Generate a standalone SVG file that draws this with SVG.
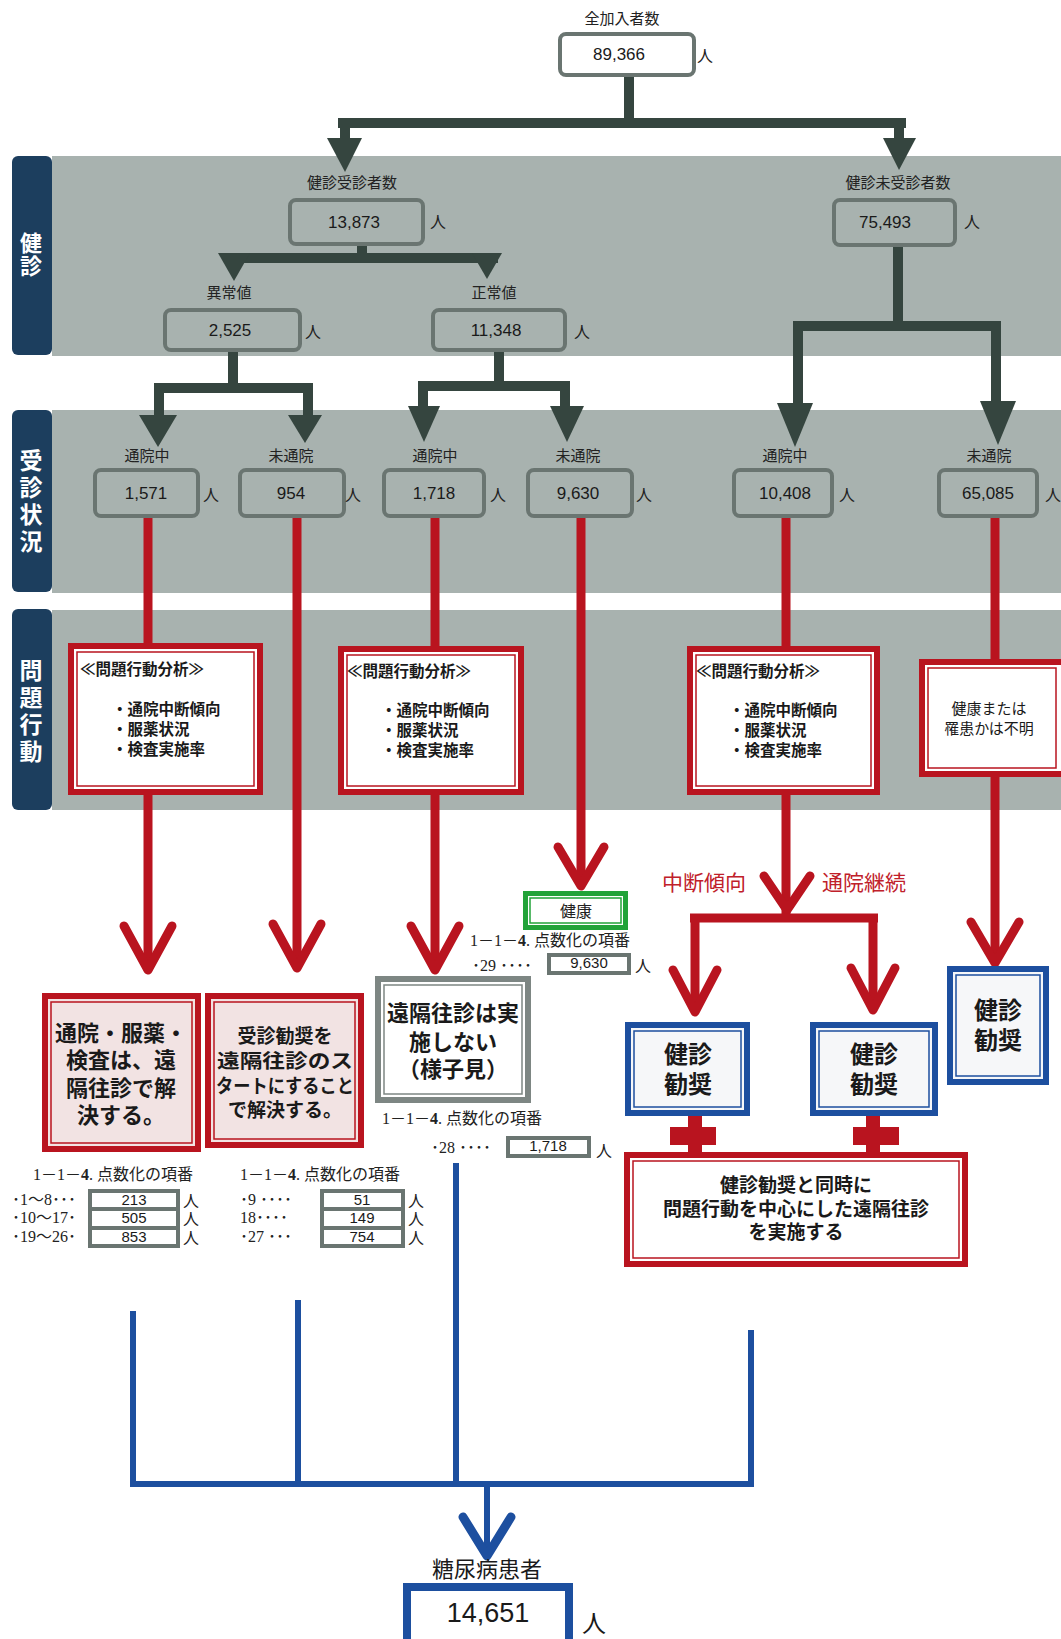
<svg xmlns="http://www.w3.org/2000/svg" width="1061" height="1639" viewBox="0 0 1061 1639">
<style>
.band{fill:#a8b2af}
.tab{fill:#1c3e5e}
.tabt{font-family:"Noto Sans CJK JP",sans-serif;font-weight:bold;fill:#fff;text-anchor:middle;writing-mode:vertical-rl}
.gbox{fill:none;stroke:#6a7571;stroke-width:4}
.num{font-family:"Liberation Sans",Arial,sans-serif;fill:#1a1a1a;text-anchor:middle}
.lbl{font-family:"Liberation Serif","Noto Sans CJK JP",serif;fill:#222;text-anchor:middle;font-size:15px}
.nin{font-family:"Liberation Serif","Noto Sans CJK JP",serif;fill:#222;font-size:16px}
.sr{font-family:"Liberation Serif","Noto Sans CJK JP",serif;fill:#222;font-size:16px}
.jp{font-family:"Noto Sans CJK JP",sans-serif;fill:#1a1a1a}
.jpm{font-family:"Noto Sans CJK JP",sans-serif;fill:#1a1a1a;font-weight:600}
.jpb{font-family:"Noto Sans CJK JP",sans-serif;fill:#1a1a1a;font-weight:bold;text-anchor:middle}
.dk{fill:none;stroke:#35453f;stroke-width:10}
.dkf{fill:#35453f}
.rl{fill:none;stroke:#b9141f;stroke-width:9}
.rv{fill:none;stroke:#b9141f;stroke-width:9;stroke-linecap:round;stroke-linejoin:round}
.rf{fill:#b9141f}
.bl{fill:none;stroke:#1d4f9f;stroke-width:6}
.bv{fill:none;stroke:#1d4f9f;stroke-width:9;stroke-linecap:round;stroke-linejoin:round}
.ro{fill:#fff;stroke:#b9141f;stroke-width:6}
.rop{fill:#f2e3e3;stroke:#b9141f;stroke-width:6}
.ri{fill:none;stroke:#b9141f;stroke-width:1.5}
.bo{fill:#f6f7f9;stroke:#1d4f9f;stroke-width:6}
.bi{fill:none;stroke:#1d4f9f;stroke-width:1.5}
.go{fill:#fff;stroke:#7d8683;stroke-width:6}
.gi{fill:none;stroke:#7d8683;stroke-width:1.5}
.gro{fill:#fff;stroke:#22a339;stroke-width:5}
.gri{fill:none;stroke:#22a339;stroke-width:1.5}
.sbox{fill:#fff;stroke:#6a7571;stroke-width:4}
.red{font-family:"Noto Sans CJK JP",sans-serif;fill:#c0202a;font-size:21px}
</style>

<!-- background bands -->
<g id="bands">
<rect class="band" x="52" y="156" width="1009" height="200"/>
<rect class="band" x="52" y="410" width="1009" height="183"/>
<rect class="band" x="52" y="610" width="1009" height="200"/>
<rect class="tab" x="12" y="156" width="40" height="199" rx="6"/>
<rect class="tab" x="12" y="410" width="40" height="182" rx="6"/>
<rect class="tab" x="12" y="609" width="40" height="201" rx="6"/>
<text class="tabt" font-size="22" letter-spacing="1" x="31" y="255">健診</text>
<text class="tabt" font-size="23" letter-spacing="4" x="31" y="503">受診状況</text>
<text class="tabt" font-size="23" letter-spacing="4" x="31" y="713">問題行動</text>
</g>

<g id="connectors">
<!-- dark tree -->
<path class="dk" d="M629 76V123M338 123H906M345 118V142M899 118V142"/>
<polygon class="dkf" points="327,138 362,138 345,172"/>
<polygon class="dkf" points="883,138 916,138 899,170"/>
<path class="dk" d="M362 245V258M224 258H498"/>
<polygon class="dkf" points="218,253 250,253 234,281"/>
<polygon class="dkf" points="472,253 502,253 487,279"/>
<path class="dk" d="M898 247V326M793 326H1001M798 321V408M996 321V406"/>
<polygon class="dkf" points="777,403 813,403 795,447"/>
<polygon class="dkf" points="980,401 1016,401 998,445"/>
<path class="dk" d="M233 352V388M154 388H313M159 383V420M308 383V420"/>
<polygon class="dkf" points="139,415 177,415 158,447"/>
<polygon class="dkf" points="288,415 322,415 305,443"/>
<path class="dk" d="M499 352V386M418 386H570M423 381V410M565 381V410"/>
<polygon class="dkf" points="408,406 440,406 424,442"/>
<polygon class="dkf" points="550,406 584,406 567,442"/>
<!-- red lines -->
<path class="rl" d="M148 518V970M297 518V968M435 518V970M581 518V886M786 518V914M995 518V963"/>
<polyline class="rv" points="124,926 148,970 172,926"/>
<polyline class="rv" points="273,924 297,968 321,924"/>
<polyline class="rv" points="411,926 435,970 459,926"/>
<polyline class="rv" points="558,847 581,886 604,847"/>
<polyline class="rv" points="764,876 787,910 810,876"/>
<polyline class="rv" points="971,922 995,963 1019,922"/>
<path class="rl" d="M690 918H878M695 914V1012M873 914V1010"/>
<polyline class="rv" points="673,970 695,1012 717,970"/>
<polyline class="rv" points="851,968 873,1010 895,968"/>
<!-- red plus joins -->
<rect class="rf" x="688" y="1114" width="14" height="40"/>
<rect class="rf" x="670" y="1127" width="46" height="18"/>
<rect class="rf" x="866" y="1114" width="14" height="40"/>
<rect class="rf" x="853" y="1127" width="46" height="18"/>
<!-- blue lines -->
<path class="bl" d="M133 1311V1487M298 1300V1487M456 1163V1487M751 1330V1487M130 1484H754"/>
<path class="bl" stroke-width="10" d="M487 1484V1552"/>
<polyline class="bv" points="463,1517 487,1556 511,1517"/>
</g>

<!-- top nodes -->
<g id="n-all">
<text class="lbl" x="622" y="24">全加入者数</text>
<rect class="gbox" x="560" y="34" width="134" height="41" rx="6" fill="#fff"/>
<text class="num" x="619" y="60" font-size="17">89,366</text>
<text class="nin" x="697" y="62">人</text>
</g>
<g id="n-jushin">
<text class="lbl" x="352" y="188">健診受診者数</text>
<rect class="gbox" x="290" y="200" width="133" height="44" rx="6"/>
<text class="num" x="354" y="228" font-size="17">13,873</text>
<text class="nin" x="430" y="228">人</text>
</g>
<g id="n-mijushin">
<text class="lbl" x="898" y="188">健診未受診者数</text>
<rect class="gbox" x="834" y="200" width="121" height="45" rx="6"/>
<text class="num" x="885" y="228" font-size="17">75,493</text>
<text class="nin" x="964" y="228">人</text>
</g>
<g id="n-ijou">
<text class="lbl" x="229" y="298">異常値</text>
<rect class="gbox" x="165" y="310" width="135" height="40" rx="6"/>
<text class="num" x="230" y="336" font-size="17">2,525</text>
<text class="nin" x="305" y="338">人</text>
</g>
<g id="n-seijou">
<text class="lbl" x="494" y="298">正常値</text>
<rect class="gbox" x="433" y="310" width="132" height="40" rx="6"/>
<text class="num" x="496" y="336" font-size="17">11,348</text>
<text class="nin" x="574" y="338">人</text>
</g>

<!-- row 2 -->
<g id="n-a-tsuin">
<text class="lbl" x="147" y="461">通院中</text>
<rect class="gbox" x="95" y="470" width="103" height="46" rx="6"/>
<text class="num" x="146" y="499" font-size="17">1,571</text>
<text class="nin" x="203" y="501">人</text>
</g>
<g id="n-a-mitsuin">
<text class="lbl" x="291" y="461">未通院</text>
<rect class="gbox" x="240" y="470" width="104" height="46" rx="6"/>
<text class="num" x="291" y="499" font-size="17">954</text>
<text class="nin" x="345" y="501">人</text>
</g>
<g id="n-b-tsuin">
<text class="lbl" x="435" y="461">通院中</text>
<rect class="gbox" x="384" y="470" width="100" height="46" rx="6"/>
<text class="num" x="434" y="499" font-size="17">1,718</text>
<text class="nin" x="490" y="501">人</text>
</g>
<g id="n-b-mitsuin">
<text class="lbl" x="578" y="461">未通院</text>
<rect class="gbox" x="528" y="470" width="104" height="46" rx="6"/>
<text class="num" x="578" y="499" font-size="17">9,630</text>
<text class="nin" x="636" y="501">人</text>
</g>
<g id="n-c-tsuin">
<text class="lbl" x="785" y="461">通院中</text>
<rect class="gbox" x="734" y="470" width="98" height="46" rx="6"/>
<text class="num" x="785" y="499" font-size="17">10,408</text>
<text class="nin" x="839" y="501">人</text>
</g>
<g id="n-c-mitsuin">
<text class="lbl" x="989" y="461">未通院</text>
<rect class="gbox" x="939" y="470" width="98" height="46" rx="6"/>
<text class="num" x="988" y="499" font-size="17">65,085</text>
<text class="nin" x="1045" y="501">人</text>
</g>

<!-- problem boxes -->
<g id="p1">
<rect class="ro" x="71" y="646" width="189" height="146"/>
<rect class="ri" x="77" y="652" width="177" height="134"/>
<text class="jpm" font-size="15.5" x="80" y="675">≪問題行動分析≫</text>
<text class="jpm" font-size="15.5"><tspan x="112" y="715">・通院中断傾向</tspan><tspan x="112" y="735">・服薬状況</tspan><tspan x="112" y="755">・検査実施率</tspan></text>
</g>
<g id="p2">
<rect class="ro" x="341" y="649" width="180" height="143"/>
<rect class="ri" x="347" y="655" width="168" height="131"/>
<text class="jpm" font-size="15.5" x="347" y="677">≪問題行動分析≫</text>
<text class="jpm" font-size="15.5"><tspan x="381" y="716">・通院中断傾向</tspan><tspan x="381" y="736">・服薬状況</tspan><tspan x="381" y="756">・検査実施率</tspan></text>
</g>
<g id="p3">
<rect class="ro" x="690" y="649" width="187" height="143"/>
<rect class="ri" x="696" y="655" width="175" height="131"/>
<text class="jpm" font-size="15.5" x="696" y="677">≪問題行動分析≫</text>
<text class="jpm" font-size="15.5"><tspan x="729" y="716">・通院中断傾向</tspan><tspan x="729" y="736">・服薬状況</tspan><tspan x="729" y="756">・検査実施率</tspan></text>
</g>
<g id="p4">
<rect class="ro" x="922" y="662" width="142" height="112"/>
<rect class="ri" x="928" y="668" width="128" height="100"/>
<text class="jp" font-size="15" fill="#555" text-anchor="middle"><tspan x="989" y="714">健康または</tspan><tspan x="989" y="734">罹患かは不明</tspan></text>
</g>

<!-- labels on red flow -->
<text class="red" x="662" y="890">中断傾向</text>
<text class="red" x="822" y="890">通院継続</text>

<!-- health -->
<g id="n-kenkou">
<rect class="gro" x="525.5" y="893.5" width="100" height="34"/>
<rect class="gri" x="530" y="898" width="91" height="25"/>
<text class="sr" x="576" y="917" text-anchor="middle">健康</text>
<text class="sr" font-size="17" x="470" y="946">1－1－<tspan font-weight="bold">4</tspan>. 点数化の項番</text>
<text class="sr" x="472" y="971">･29 ････</text>
<rect class="sbox" x="549" y="955" width="80" height="18"/>
<text class="num" x="589" y="968" font-size="15">9,630</text>
<text class="nin" x="635" y="972">人</text>
</g>

<!-- bottom boxes -->
<g id="s-a">
<rect class="rop" x="45" y="996" width="153" height="153"/>
<rect class="ri" x="51" y="1002" width="141" height="141"/>
<text class="jpb" font-size="22"><tspan x="121" y="1041">通院・服薬・</tspan><tspan x="121" y="1068">検査は、遠</tspan><tspan x="121" y="1096">隔往診で解</tspan><tspan x="121" y="1123">決する。</tspan></text>
<text class="sr" font-size="16" x="33" y="1180">1－1－<tspan font-weight="bold">4</tspan>. 点数化の項番</text>
<text class="sr" font-size="15"><tspan x="12" y="1205">･1〜8･･･</tspan><tspan x="12" y="1223">･10〜17･</tspan><tspan x="12" y="1242">･19〜26･</tspan></text>
<rect class="sbox" x="90" y="1191" width="88" height="18"/>
<rect class="sbox" x="90" y="1209" width="88" height="19"/>
<rect class="sbox" x="90" y="1228" width="88" height="18"/>
<text class="num" font-size="15"><tspan x="134" y="1205">213</tspan><tspan x="134" y="1223">505</tspan><tspan x="134" y="1242">853</tspan></text>
<text class="nin"><tspan x="183" y="1207">人</tspan><tspan x="183" y="1225">人</tspan><tspan x="183" y="1244">人</tspan></text>
</g>
<g id="s-b">
<rect class="rop" x="208" y="996" width="153" height="149"/>
<rect class="ri" x="214" y="1002" width="141" height="137"/>
<text class="jpb" font-size="19"><tspan x="285" y="1043">受診勧奨を</tspan><tspan x="285" y="1068" textLength="136" lengthAdjust="spacingAndGlyphs">遠隔往診のス</tspan><tspan x="285" y="1093" textLength="138" lengthAdjust="spacingAndGlyphs">タートにすること</tspan><tspan x="285" y="1117">で解決する。</tspan></text>
<text class="sr" font-size="16" x="240" y="1180">1－1－<tspan font-weight="bold">4</tspan>. 点数化の項番</text>
<text class="sr" font-size="15"><tspan x="240" y="1205">･9 ････</tspan><tspan x="240" y="1223">18････</tspan><tspan x="240" y="1242">･27 ･･･</tspan></text>
<rect class="sbox" x="322" y="1191" width="81" height="18"/>
<rect class="sbox" x="322" y="1209" width="81" height="19"/>
<rect class="sbox" x="322" y="1228" width="81" height="18"/>
<text class="num" font-size="15"><tspan x="362" y="1205">51</tspan><tspan x="362" y="1223">149</tspan><tspan x="362" y="1242">754</tspan></text>
<text class="nin"><tspan x="408" y="1207">人</tspan><tspan x="408" y="1225">人</tspan><tspan x="408" y="1244">人</tspan></text>
</g>
<g id="s-c">
<rect class="go" x="378" y="979" width="150" height="121"/>
<rect class="gi" x="384" y="985" width="138" height="109"/>
<text class="jpb" font-size="22"><tspan x="453" y="1021">遠隔往診は実</tspan><tspan x="453" y="1050">施しない</tspan><tspan x="453" y="1077">（様子見）</tspan></text>
<text class="sr" font-size="17" x="382" y="1124">1－1－<tspan font-weight="bold">4</tspan>. 点数化の項番</text>
<text class="sr" x="431" y="1153">･28 ････</text>
<rect class="sbox" x="508" y="1138" width="81" height="18"/>
<text class="num" x="548" y="1151" font-size="15">1,718</text>
<text class="nin" x="596" y="1157">人</text>
</g>
<g id="s-blue1">
<rect class="bo" x="628" y="1025" width="119" height="88"/>
<rect class="bi" x="634" y="1031" width="107" height="76"/>
<text class="jpb" font-size="24"><tspan x="688" y="1063">健診</tspan><tspan x="688" y="1093">勧奨</tspan></text>
</g>
<g id="s-blue2">
<rect class="bo" x="813" y="1025" width="122" height="88"/>
<rect class="bi" x="819" y="1031" width="110" height="76"/>
<text class="jpb" font-size="24"><tspan x="874" y="1063">健診</tspan><tspan x="874" y="1093">勧奨</tspan></text>
</g>
<g id="s-blue3">
<rect class="bo" x="950" y="969" width="96" height="113"/>
<rect class="bi" x="956" y="975" width="84" height="101"/>
<text class="jpb" font-size="24"><tspan x="998" y="1019">健診</tspan><tspan x="998" y="1049">勧奨</tspan></text>
</g>
<g id="s-d">
<rect class="ro" x="627" y="1155" width="338" height="109"/>
<rect class="ri" x="633" y="1161" width="326" height="97"/>
<text class="jpb" font-size="19"><tspan x="796" y="1192">健診勧奨と同時に</tspan><tspan x="796" y="1216">問題行動を中心にした遠隔往診</tspan><tspan x="796" y="1239">を実施する</tspan></text>
</g>

<!-- final -->
<g id="n-final">
<text class="jp" font-size="22" x="487" y="1577" text-anchor="middle" fill="#222">糖尿病患者</text>
<rect fill="#fff" stroke="#1d4f9f" stroke-width="8" x="407" y="1587" width="162" height="70"/>
<text class="num" x="488" y="1622" font-size="27">14,651</text>
<text class="jp" font-size="24" x="582" y="1632" fill="#222">人</text>
</g>
</svg>
